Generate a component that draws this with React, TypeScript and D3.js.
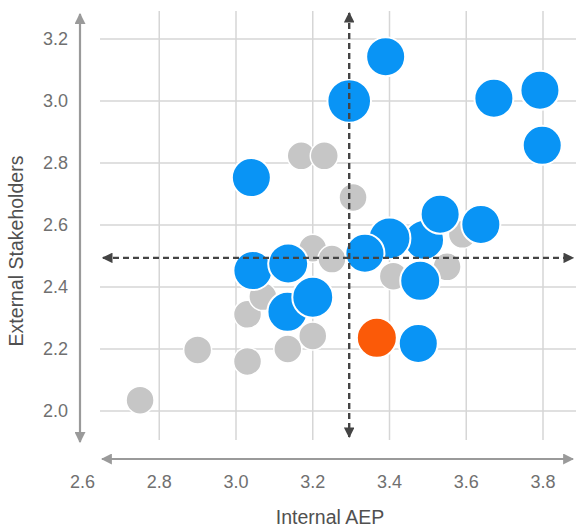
import React from "react";
import * as d3 from "d3";

const xTicks = [2.6, 2.8, 3.0, 3.2, 3.4, 3.6, 3.8];
const yTicks = [2.0, 2.2, 2.4, 2.6, 2.8, 3.0, 3.2];

const grayX = [2.75, 2.9, 3.03, 3.03, 3.135, 3.2, 3.07, 3.2, 3.25, 3.305, 3.17, 3.23, 3.41, 3.55, 3.59];
const grayY = [2.035, 2.197, 2.16, 2.312, 2.2, 2.242, 2.369, 2.525, 2.49, 2.689, 2.823, 2.823, 2.435, 2.465, 2.57];

const blueX = [3.39, 3.295, 3.04, 3.672, 3.792, 3.798, 3.49, 3.40, 3.532, 3.638, 3.48, 3.475, 3.336, 3.044, 3.136, 3.134, 3.2];
const blueY = [3.143, 3.0, 2.753, 3.009, 3.035, 2.857, 2.552, 2.557, 2.635, 2.602, 2.42, 2.218, 2.509, 2.453, 2.476, 2.32, 2.367];
const blueSize = [1.0, 1.25, 1.0, 1.0, 1.0, 1.0, 1.05, 1.15, 1.0, 1.0, 1.05, 1.0, 1.0, 1.0, 1.05, 1.05, 1.1];

const orangeX = [3.367];
const orangeY = [2.236];

const refX = 3.295;
const refY = 2.494;

const xTitle = "Internal AEP";
const yTitle = "External Stakeholders";

const W = 576;
const H = 528;

export default function App() {
  const x = d3.scaleLinear().domain([2.6, 3.8]).range([82.5, 543]);
  const y = d3.scaleLinear().domain([2.0, 3.2]).range([411, 39]);
  const r = d3.scaleSqrt().domain([0, 1]).range([0, 19.5]);

  const gridCol = "#d6d6d6";
  const axisCol = "#9a9a9a";
  const dashCol = "#444";
  const font = "'Liberation Sans', Arial, Helvetica, sans-serif";

  const gray = grayX.map((v, i) => ({ x: v, y: grayY[i] }));
  const blue = blueX.map((v, i) => ({ x: v, y: blueY[i], s: blueSize[i] }));
  const orange = orangeX.map((v, i) => ({ x: v, y: orangeY[i] }));

  const vx = x(refX);
  const hy = y(refY);

  return (
    <svg
      width={W}
      height={H}
      style={{ position: "absolute", left: 0, top: 0, background: "#fff" }}
      fontFamily={font}
    >
      <defs>
        <marker id="ag" viewBox="0 0 10 10" refX="9" refY="5" markerWidth="5" markerHeight="5" orient="auto-start-reverse" markerUnits="strokeWidth">
          <path d="M0,0 L10,5 L0,10 z" fill={axisCol} />
        </marker>
        <marker id="ad" viewBox="0 0 10 10" refX="9" refY="5" markerWidth="4.4" markerHeight="4.4" orient="auto-start-reverse" markerUnits="strokeWidth">
          <path d="M0,0 L10,5 L0,10 z" fill={dashCol} />
        </marker>
      </defs>

      {/* grid */}
      {xTicks.filter((t) => t > 2.6).map((t) => (
        <line key={"gx" + t} x1={x(t)} x2={x(t)} y1={11} y2={440} stroke={gridCol} strokeWidth={1.5} />
      ))}
      {yTicks.map((t) => (
        <line key={"gy" + t} x1={100} x2={576} y1={y(t)} y2={y(t)} stroke={gridCol} strokeWidth={1.5} />
      ))}

      {/* axes arrows */}
      <line x1={80} x2={80} y1={14} y2={442} stroke={axisCol} strokeWidth={2.2} markerStart="url(#ag)" markerEnd="url(#ag)" />
      <line x1={102} x2={573} y1={459} y2={459} stroke={axisCol} strokeWidth={2.2} markerStart="url(#ag)" markerEnd="url(#ag)" />

      {/* tick labels */}
      {yTicks.map((t) => (
        <text key={"ty" + t} x={68} y={y(t)} dy="0.35em" textAnchor="end" fontSize={18} fill="#707070">
          {d3.format(".1f")(t)}
        </text>
      ))}
      {xTicks.map((t) => (
        <text key={"tx" + t} x={x(t)} y={488} textAnchor="middle" fontSize={18} fill="#707070">
          {d3.format(".1f")(t)}
        </text>
      ))}

      {/* titles */}
      <text x={330} y={524} textAnchor="middle" fontSize={19.5} fill="#505050">
        {xTitle}
      </text>
      <text transform={`translate(23,251) rotate(-90)`} textAnchor="middle" fontSize={19.5} fill="#505050">
        {yTitle}
      </text>

      {/* bubbles */}
      {gray.map((d, i) => (
        <circle key={"g" + i} cx={x(d.x)} cy={y(d.y)} r={14} fill="#c6c6c6" stroke="#fff" strokeWidth={1.5} />
      ))}
      {blue.map((d, i) => (
        <circle key={"b" + i} cx={x(d.x)} cy={y(d.y)} r={r(d.s)} fill="#0994f5" stroke="#fff" strokeWidth={2} />
      ))}
      {orange.map((d, i) => (
        <circle key={"o" + i} cx={x(d.x)} cy={y(d.y)} r={20} fill="#fb5a08" stroke="#fff" strokeWidth={2} />
      ))}

      {/* reference dashed lines */}
      <line x1={vx} x2={vx} y1={13} y2={437} stroke={dashCol} strokeWidth={2.4} strokeDasharray="6,4" markerStart="url(#ad)" markerEnd="url(#ad)" />
      <line x1={103} x2={573} y1={hy} y2={hy} stroke={dashCol} strokeWidth={2.4} strokeDasharray="6,4" markerStart="url(#ad)" markerEnd="url(#ad)" />
    </svg>
  );
}
